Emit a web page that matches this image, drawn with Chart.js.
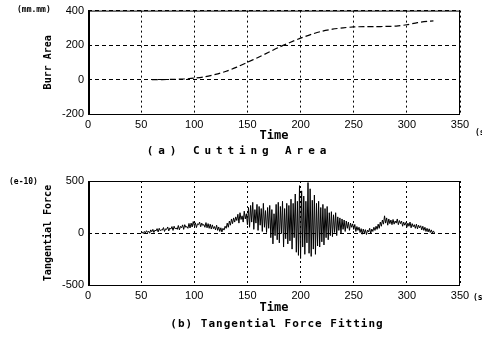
<!DOCTYPE html>
<html>
<head>
<meta charset="utf-8">
<script src="https://cdn.jsdelivr.net/npm/chart.js@4.4.1/dist/chart.umd.min.js"></script>
<style>
  body { margin: 0; width: 482px; height: 340px; background: #fff; position: relative; overflow: hidden;
         font-family: "DejaVu Sans Mono", monospace; color: #000; }
  .box { position: absolute; left: 0; width: 482px; }
  .unit { position: absolute; font-weight: bold; font-size: 8px; white-space: nowrap; }
  .caption { position: absolute; font-weight: bold; font-size: 11px; white-space: nowrap; transform: translateX(-50%); }
</style>
</head>
<body>
<div class="box" style="top:0;height:144px"><canvas id="areaChart"></canvas></div>
<div class="box" style="top:150px;height:166px"><canvas id="forceChart"></canvas></div>

<div class="unit" style="left:17px;top:5px">(mm.mm)</div>
<div class="unit" style="left:475px;top:128px">(s</div>
<div class="caption" style="left:239px;top:144px;letter-spacing:4.9px">(a) Cutting Area</div>

<div class="unit" style="left:9px;top:177px">(e-10)</div>
<div class="unit" style="left:473px;top:293px">(s)</div>
<div class="caption" style="left:277px;top:317px;letter-spacing:1px">(b) Tangential Force Fitting</div>

<script>
// x axis (s)
const timeTicks = [0, 50, 100, 150, 200, 250, 300, 350];

// (a) cutting / burr area
const areaTicks = [-200, 0, 200, 400];
const areaTime = [60, 70, 80, 90, 100, 110, 120, 130, 140, 150, 160, 170, 180, 190, 200,
                  210, 220, 230, 240, 250, 260, 270, 280, 290, 300, 310, 320, 325];
const areaValue = [0, 0, 1, 3, 8, 16, 30, 48, 72, 100, 128, 158, 188, 215, 240,
                   262, 280, 292, 300, 305, 307, 307, 308, 310, 318, 330, 338, 340];

// (b) tangential force, one sample per second from t = 50
const forceTicks = [-500, 0, 500];
const forceStart = 50;
const forceValue = [
  0, 8, -5, 15, 0, 22, 5, 18, -2, 30,
  12, 35, 5, 28, 20, 42, 10, 45, 22, 30,
  28, 52, 15, 40, 35, 58, 20, 48, 38, 62,
  25, 65, 40, 48, 35, 72, 30, 64, 50, 78,
  35, 80, 55, 62, 45, 92, 48, 95, 58, 110,
  70, 98, 52, 88, 80, 105, 60, 95, 72, 82,
  55, 100, 50, 90, 45, 85, 38, 78, 42, 62,
  30, 75, 25, 58, 15, 50, 10, 45, 28, 65,
  45, 95, 55, 115, 75, 135, 90, 145, 105, 155,
  120, 180, 95, 195, 130, 165, 105, 210, 135, 185,
  80, 245, 55, 265, 105, 295, 35, 225, 95, 275,
  25, 255, 75, 235, 15, 285, 55, 215, 5, 245,
  45, 265, -45, 225, -105, 185, -25, 275, -65, 295,
  -95, 255, -5, 305, -135, 235, -55, 285, -105, 265,
  -75, 325, -155, 285, -45, 375, -185, 305, -215, 455,
  -245, 405, -135, 355, -205, 305, -95, 485, -195, 425,
  -225, 315, -155, 365, -205, 285, -125, 305, -135, 245,
  -85, 275, -115, 235, -45, 255, -65, 195, -25, 205,
  -35, 175, 5, 195, -25, 155, 25, 145, -5, 135,
  35, 125, 15, 115, 45, 105, 25, 95, 55, 88,
  35, 82, 15, 62, 25, 55, 5, 42, -12, 38,
  0, 32, -15, 28, 10, 45, -5, 38, 15, 55,
  25, 65, 35, 85, 45, 105, 65, 125, 85, 165,
  95, 145, 75, 135, 90, 125, 80, 130, 85, 115,
  95, 135, 80, 120, 90, 115, 65, 105, 75, 100,
  55, 95, 65, 105, 50, 90, 60, 80, 45, 85,
  40, 75, 50, 70, 30, 65, 25, 55, 15, 45,
  10, 40, 5, 30, 0, 20, 0
];

const PLOT_LEFT = 88;
const PLOT_RIGHT = 460;
const tickFont = { family: 'Liberation Sans', size: 11 };
const titleFont = { family: 'DejaVu Sans Mono', size: 10, weight: 'bold' };

// solid frame round the plot area
const framePlugin = {
  id: 'frame',
  afterDraw(chart) {
    const a = chart.chartArea;
    const ctx = chart.ctx;
    ctx.save();
    ctx.strokeStyle = '#000';
    ctx.lineWidth = 1;
    ctx.strokeRect(a.left + 0.5, a.top + 0.5, a.right - a.left - 1, a.bottom - a.top);
    ctx.lineWidth = 2;
    ctx.beginPath();
    ctx.moveTo(a.left + 1, a.top);
    ctx.lineTo(a.left + 1, a.bottom + 1);
    ctx.stroke();
    ctx.restore();
  }
};

function makeOptions(yTicks, plotTop, plotBottom, boxHeight, yTitle) {
  return {
    responsive: true,
    maintainAspectRatio: false,
    animation: false,
    layout: { padding: { left: 42, right: 482 - PLOT_RIGHT, top: plotTop, bottom: 0 } },
    plugins: { legend: { display: false }, tooltip: { enabled: false } },
    scales: {
      x: {
        type: 'linear',
        min: 0,
        max: 350,
        afterBuildTicks: s => { s.ticks = timeTicks.map(v => ({ value: v })); },
        afterFit: s => { s.height = boxHeight - plotBottom; },
        ticks: { color: '#000', font: tickFont, padding: 4, maxRotation: 0 },
        grid: { color: '#000', lineWidth: 1, drawTicks: false },
        border: { display: false, dash: [2, 3] },
        title: {
          display: true,
          text: 'Time',
          color: '#000',
          font: { family: 'DejaVu Sans Mono', size: 12, weight: 'bold' },
          padding: { top: 0, bottom: 1 }
        }
      },
      y: {
        min: yTicks[0],
        max: yTicks[yTicks.length - 1],
        afterBuildTicks: s => { s.ticks = yTicks.map(v => ({ value: v })); },
        afterFit: s => { s.width = PLOT_LEFT - 42; },
        ticks: { color: '#000', font: tickFont, padding: 4 },
        grid: { color: '#000', lineWidth: 1, drawTicks: false },
        border: { display: false, dash: [4, 3] },
        title: {
          display: true,
          text: yTitle,
          color: '#000',
          font: titleFont,
          padding: { top: 0, bottom: 0 }
        }
      }
    }
  };
}

new Chart(document.getElementById('areaChart'), {
  type: 'line',
  data: {
    datasets: [{
      data: areaTime.map((t, i) => ({ x: t, y: areaValue[i] })),
      borderColor: '#000',
      borderWidth: 1.2,
      borderDash: [6, 3],
      pointRadius: 0,
      tension: 0.3,
      fill: false
    }]
  },
  options: makeOptions(areaTicks, 9, 114, 144, 'Burr Area'),
  plugins: [framePlugin]
});

new Chart(document.getElementById('forceChart'), {
  type: 'line',
  data: {
    datasets: [{
      data: forceValue.map((v, i) => ({ x: forceStart + i, y: v })),
      borderColor: '#000',
      borderWidth: 1,
      pointRadius: 0,
      tension: 0,
      fill: false
    }]
  },
  options: makeOptions(forceTicks, 31, 135, 166, 'Tangential Force'),
  plugins: [framePlugin]
});
</script>
</body>
</html>
